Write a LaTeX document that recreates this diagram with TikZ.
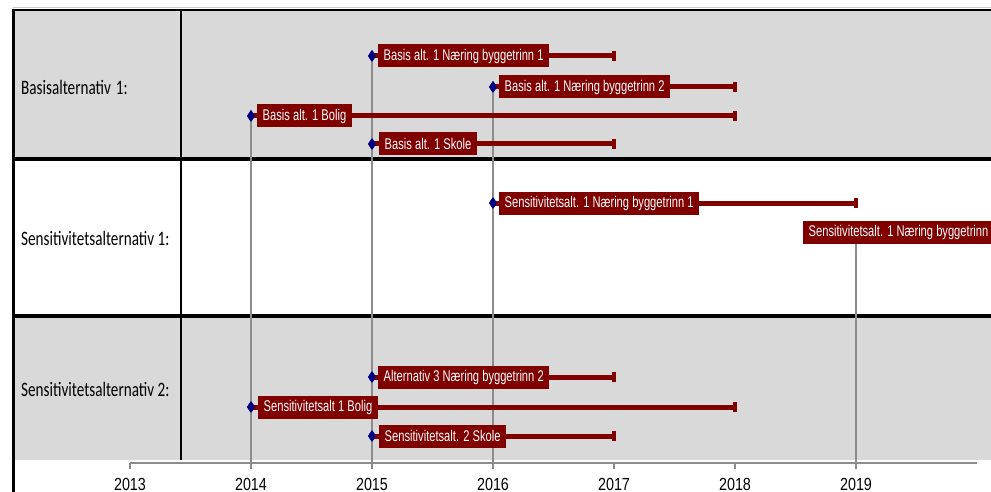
\documentclass[tikz,border=0pt]{standalone}
\usepackage{fontspec}
\setmainfont{Liberation Sans}
\newfontfamily\rowfont[FakeStretch=0.74]{Carlito}
\newfontfamily\barfont[FakeStretch=0.72]{Liberation Sans}
\newfontfamily\yearfont[FakeStretch=0.82]{Liberation Sans}
\usetikzlibrary{shapes.geometric}
\definecolor{bandgray}{HTML}{D9D9D9}
\definecolor{barred}{HTML}{800000}
\definecolor{navyblue}{HTML}{000080}
\definecolor{gridgray}{HTML}{8C8C8C}
\tikzset{
  lbl/.style={fill=barred, text=white, font=\barfont\fontsize{15.5}{17}\selectfont, inner xsep=5.5pt, inner ysep=0pt, minimum height=23pt, anchor=west},
  ms/.style={diamond, fill=navyblue, inner sep=0pt, minimum width=8pt, minimum height=12pt},
  barline/.style={draw=barred, line width=5pt},
  endcap/.style={fill=barred, minimum width=4pt, minimum height=10pt, inner sep=0pt},
  drop/.style={draw=gridgray, line width=1.8pt},
  rowlbl/.style={font=\rowfont\fontsize{20.5}{22}\selectfont, anchor=base west, inner sep=0pt},
  yearlbl/.style={font=\yearfont\fontsize{17.5}{20}\selectfont, inner sep=0pt, anchor=base},
}
\begin{document}
\begin{tikzpicture}[x=1pt,y=-1pt]
\useasboundingbox (0,0) rectangle (991,492);
\clip (0,0) rectangle (991,492);
% bands
\fill[bandgray] (13,10) rectangle (991,159);
\fill[white] (13,159) rectangle (991,316);
\fill[bandgray] (13,316) rectangle (991,460);
\draw[gray!40, line width=0.8pt] (13,7.5) -- (991,7.5);
% grid/border lines
\draw[black, line width=2.5pt] (13,10) -- (991,10);
\draw[black, line width=3.5pt] (13,159) -- (991,159);
\draw[black, line width=3.5pt] (13,316) -- (991,316);
\draw[black, line width=3pt] (13,8.75) -- (13,492);
\draw[black, line width=2pt] (181,10) -- (181,460);
% row labels
\node[rowlbl] (r1) at (21,95) {Basisalternativ\hspace{1.5pt} 1:};
\node[rowlbl] (r2) at (21,245) {Sensitivitetsalternativ 1:};
\node[rowlbl] (r3) at (21,396) {Sensitivitetsalternativ 2:};
% axis
\coordinate (a13) at (130,463);
\coordinate (a14) at (251,463);
\coordinate (a15) at (372,463);
\coordinate (a16) at (493,463);
\coordinate (a17) at (614,463);
\coordinate (a18) at (735,463);
\coordinate (a19) at (856,463);
\coordinate (aend) at (977,463);
\draw[gridgray, line width=2pt] (a13) -- (aend);
\foreach \c in {a13,a14,a15,a16,a17,a18,a19}{
  \draw[gridgray, line width=1.8pt] (\c) -- ++(0,6);
}
\foreach \c/\t in {a13/2013,a14/2014,a15/2015,a16/2016,a17/2017,a18/2018,a19/2019}{
  \node[yearlbl] at ([yshift=-27.3pt]\c) {\t};
}
% milestones: diamonds and end points
\node[ms] (d1) at (372,56) {};
\node[ms] (d2) at (493,87) {};
\node[ms] (d3) at (251,116) {};
\node[ms] (d4) at (372,144) {};
\node[ms] (d5) at (493,203) {};
\coordinate (d6) at (856,232);
\node[ms] (d7) at (372,377) {};
\node[ms] (d8) at (251,407) {};
\node[ms] (d9) at (372,436) {};
% drop lines
\draw[drop] (d3.center) -- (a14);
\draw[drop] (d1.center) -- (a15);
\draw[drop] (d2.center) -- (a16);
\draw[drop] (d6) -- (a19);
% end caps
\node[endcap] (e1) at (614,56) {};
\node[endcap] (e2) at (735,87) {};
\node[endcap] (e3) at (735,116) {};
\node[endcap] (e4) at (614,144) {};
\node[endcap] (e5) at (856,203) {};
\node[endcap] (e7) at (614,377) {};
\node[endcap] (e8) at (735,407) {};
\node[endcap] (e9) at (614,436) {};
% bars
\foreach \i in {1,2,3,4,5,7,8,9}{
  \draw[barline] (d\i.center) -- (e\i.center);
}
% redraw diamonds on top
\foreach \i in {1,2,3,4,5,7,8,9}{
  \node[ms] at (d\i) {};
}
% labels
\node[lbl] (l1) at ([xshift=6pt]d1.center) {Basis alt. 1 Næring byggetrinn 1};
\node[lbl] (l2) at ([xshift=6pt]d2.center) {Basis alt. 1 Næring byggetrinn 2};
\node[lbl] (l3) at ([xshift=6pt]d3.center) {Basis alt. 1 Bolig};
\node[lbl] (l4) at ([xshift=7pt]d4.center) {Basis alt. 1 Skole};
\node[lbl] (l5) at ([xshift=6pt]d5.center) {Sensitivitetsalt. 1 Næring byggetrinn 1};
\node[lbl] (l6) at ([xshift=-53pt]d6) {Sensitivitetsalt. 1 Næring byggetrinn};
\node[lbl] (l7) at ([xshift=6pt]d7.center) {Alternativ 3 Næring byggetrinn 2};
\node[lbl] (l8) at ([xshift=7pt]d8.center) {Sensitivitetsalt 1 Bolig};
\node[lbl] (l9) at ([xshift=7pt]d9.center) {Sensitivitetsalt. 2 Skole};
\end{tikzpicture}
\end{document}
